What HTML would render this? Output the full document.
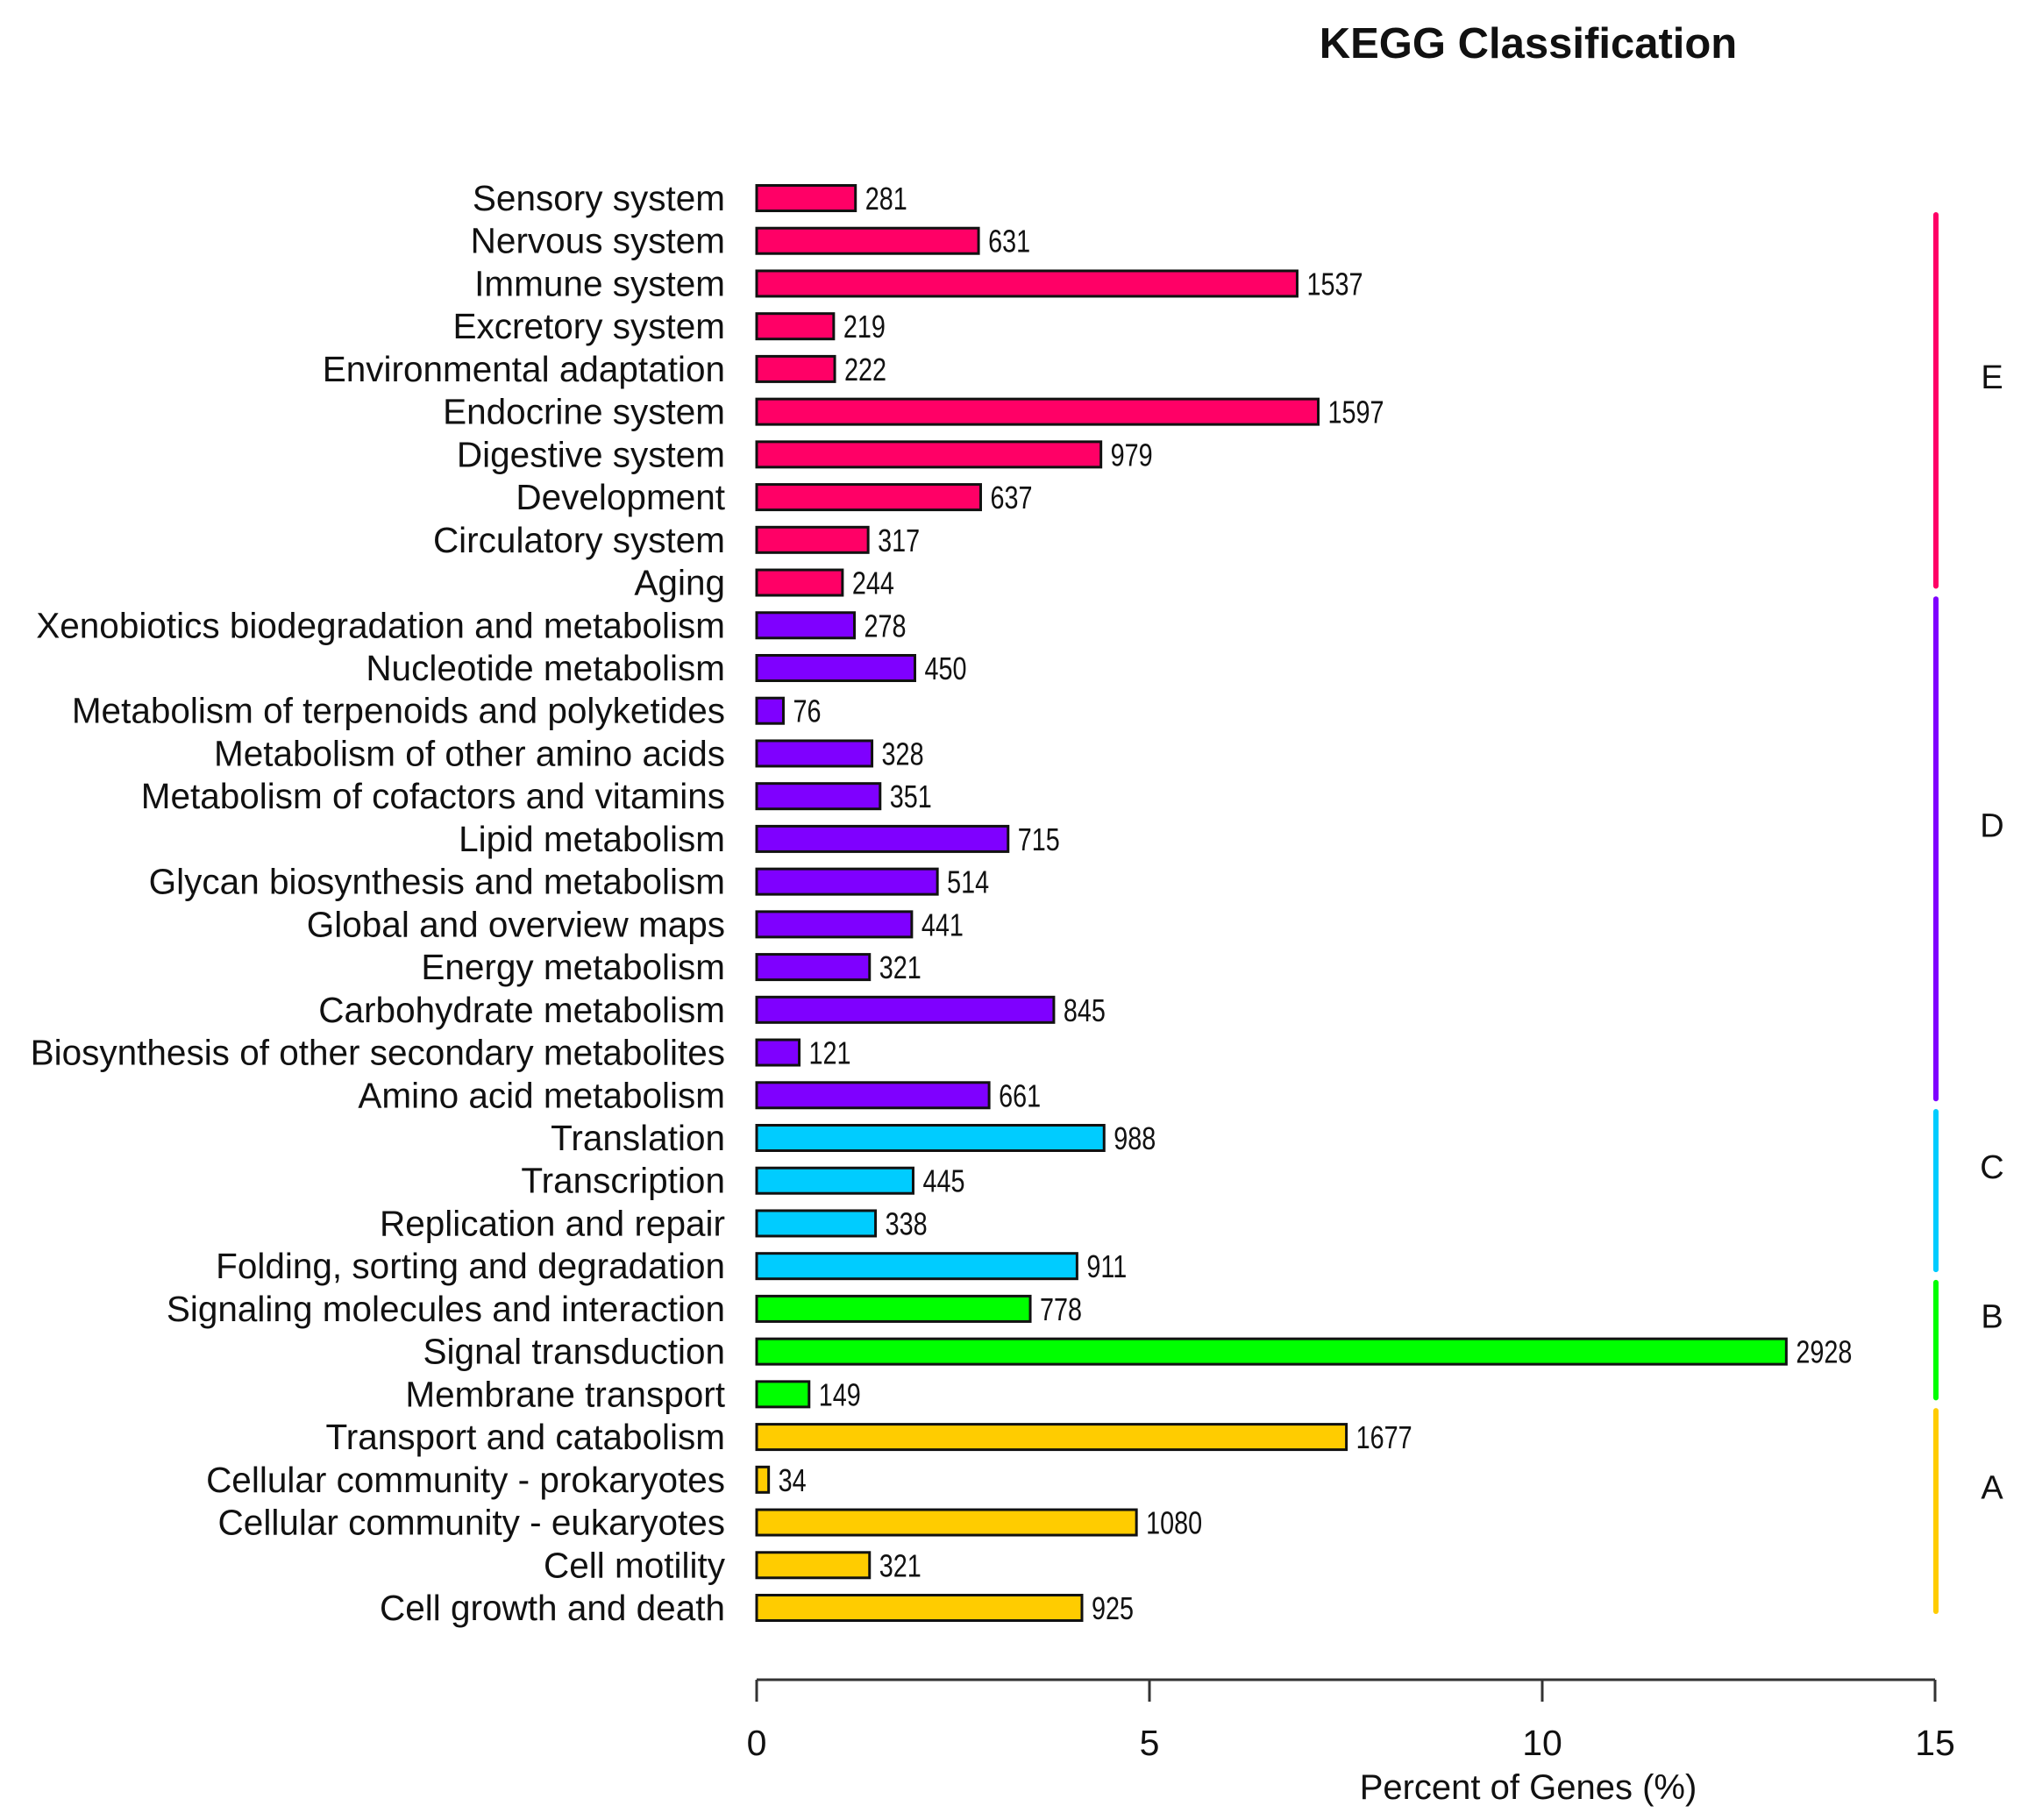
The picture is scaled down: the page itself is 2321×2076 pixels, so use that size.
<!DOCTYPE html>
<html><head><meta charset="utf-8"><style>html,body{margin:0;padding:0;background:#fff}svg{display:block}</style></head>
<body>
<svg id="chart" width="2321" height="2076" viewBox="0 0 2321 2076" xmlns="http://www.w3.org/2000/svg" font-family="Liberation Sans, Arial, sans-serif">
<rect width="2321" height="2076" fill="#fff"/>
<text x="1743" y="66" font-size="49" font-weight="bold" text-anchor="middle" fill="#111">KEGG Classification</text>
<g id="bars"></g>
<g id="axis"></g>
</svg>
<script>
const categories = ["Sensory system","Nervous system","Immune system","Excretory system","Environmental adaptation","Endocrine system","Digestive system","Development","Circulatory system","Aging","Xenobiotics biodegradation and metabolism","Nucleotide metabolism","Metabolism of terpenoids and polyketides","Metabolism of other amino acids","Metabolism of cofactors and vitamins","Lipid metabolism","Glycan biosynthesis and metabolism","Global and overview maps","Energy metabolism","Carbohydrate metabolism","Biosynthesis of other secondary metabolites","Amino acid metabolism","Translation","Transcription","Replication and repair","Folding, sorting and degradation","Signaling molecules and interaction","Signal transduction","Membrane transport","Transport and catabolism","Cellular community - prokaryotes","Cellular community - eukaryotes","Cell motility","Cell growth and death"];
const counts = [281,631,1537,219,222,1597,979,637,317,244,278,450,76,328,351,715,514,441,321,845,121,661,988,445,338,911,778,2928,149,1677,34,1080,321,925];
const groups = ["E","E","E","E","E","E","E","E","E","E","D","D","D","D","D","D","D","D","D","D","D","D","C","C","C","C","B","B","B","A","A","A","A","A"];
const groupNames = ["E","D","C","B","A"];
const totalGenes = 22340;
const xTicks = [0,5,10,15];
const colors = {E:"#FF0066",D:"#7F00FF",C:"#00CCFF",B:"#00FF00",A:"#FFCC00"};

const NS="http://www.w3.org/2000/svg";
const x0=863,x1=2207,xMax=15;
const xs=p=>x0+(x1-x0)*p/xMax;
const yTop=226,step=(1834-226)/(categories.length-1);
const ys=i=>yTop+i*step;
const barH=29;
const bars=document.getElementById('bars');
function mk(tag,attrs,parent){const e=document.createElementNS(NS,tag);for(const k in attrs)e.setAttribute(k,attrs[k]);parent.appendChild(e);return e;}
categories.forEach((c,i)=>{
  const pct=counts[i]/totalGenes*100;
  const y=ys(i);
  const lab=mk('text',{x:827,y:y+14,'font-size':40.5,'text-anchor':'end',fill:'#111'},bars);
  lab.textContent=c;
  
  
  const r=mk('rect',{x:x0,y:y-barH/2,width:xs(pct)-x0,height:barH,fill:colors[groups[i]],stroke:'#111','stroke-width':3},bars);
  
  
  const vx=xs(pct)+11;
  const v=mk('text',{x:0,y:0,'font-size':36,fill:'#111',transform:`translate(${vx},${y+13}) scale(0.8,1)`},bars);
  v.textContent=counts[i];
  
  
});
groupNames.forEach((g,gi)=>{
  const idx=groups.map((gg,i)=>gg===g?i:-1).filter(i=>i>=0);
  const a=Math.min(...idx),b=Math.max(...idx);
  const top=ys(a)+(gi===0?19:-30),bot=ys(b)+4;
  const l=mk('line',{x1:2208,x2:2208,y1:top,y2:bot,stroke:colors[g],'stroke-width':6,'stroke-linecap':'round'},bars);
  
  
  const t=mk('text',{x:2272,y:(top+bot)/2-28+14,'font-size':38,'text-anchor':'middle',fill:'#111'},bars);
  t.textContent=g;
  
  
});
const ax=document.getElementById('axis');
const al=mk('line',{x1:x0,x2:x1,y1:1916,y2:1916,stroke:'#333','stroke-width':3},ax);


xTicks.forEach(t=>{
  const tk=mk('line',{x1:xs(t),x2:xs(t),y1:1916,y2:1941,stroke:'#333','stroke-width':3},ax);
  
  
  const tl=mk('text',{x:xs(t),y:2002,'font-size':41,'text-anchor':'middle',fill:'#111'},ax);
  tl.textContent=t;
  
  
});
const at=mk('text',{x:1743,y:2052,'font-size':40,'text-anchor':'middle',fill:'#111'},ax);
at.textContent='Percent of Genes (%)';


</script>
</body></html>
